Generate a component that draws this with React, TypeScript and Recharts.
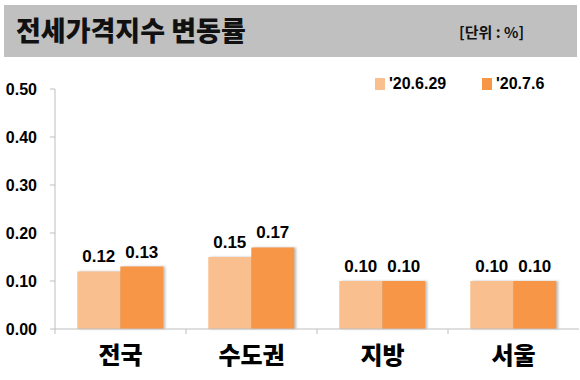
import React from "react";
import { BarChart, Bar, XAxis, YAxis, LabelList } from "recharts";

const regions = ["전국", "수도권", "지방", "서울"];
const prevWeek = [0.12, 0.15, 0.1, 0.1];
const thisWeek = [0.13, 0.17, 0.1, 0.1];
const yTicks = [0, 0.1, 0.2, 0.3, 0.4, 0.5];
const seriesNames = ["'20.6.29", "'20.7.6"];

const data = regions.map((name, i) => ({ name, prev: prevWeek[i], cur: thisWeek[i] }));

const KR = "'Noto Sans CJK KR', 'Noto Sans', sans-serif";
const NUM = "'Liberation Sans', Arial, sans-serif";
const LIGHT = "#fabf8f";
const DARK = "#f79646";

function CategoryTick(props: any) {
  const { x, y, payload } = props;
  const half = payload.offset || 0;
  return (
    <g>
      <line x1={x - half} y1={y - 8} x2={x - half} y2={y - 3} stroke="#bfbfbf" />
      <text
        x={x}
        y={y + 27}
        textAnchor="middle"
        fontFamily={KR}
        fontWeight={900}
        fontSize={24}
        fill="#000"
      >
        {payload.value}
      </text>
    </g>
  );
}

const fmt = (v: any) => Number(v).toFixed(2);
const shadow = { filter: "drop-shadow(2px 0px 1px rgba(0,0,0,0.25))" };
const labelStyle = { fontFamily: NUM, fontWeight: 700, fontSize: 17, fill: "#000" };

export default function App() {
  const legendItem = (color: string, label: string, left: number) => (
    <div style={{ position: "absolute", left, top: 75, display: "flex", alignItems: "center" }}>
      <span style={{ width: 10, height: 12, background: color, marginRight: 4, display: "inline-block" }} />
      <span style={{ fontFamily: NUM, fontWeight: 700, fontSize: 16, lineHeight: "18px", color: "#000" }}>{label}</span>
    </div>
  );
  return (
    <div style={{ position: "absolute", left: 0, top: 0, width: 580, height: 380, background: "#fff" }}>
      <div
        style={{
          position: "absolute",
          left: 4,
          top: 5,
          width: 573,
          height: 52,
          background: "#c0c0c0",
        }}
      >
        <span
          style={{
            position: "absolute",
            left: 12,
            top: 7,
            fontFamily: KR,
            fontWeight: 900,
            fontSize: 27,
            lineHeight: "36px",
            color: "#111",
          }}
        >
          전세가격지수 변동률
        </span>
        <span
          style={{
            position: "absolute",
            left: 455,
            top: 17,
            fontFamily: KR,
            fontWeight: 700,
            fontSize: 15,
            lineHeight: "20px",
            color: "#111",
          }}
        >
          [단위 : %]
        </span>
      </div>
      {legendItem(LIGHT, seriesNames[0], 375)}
      {legendItem(DARK, seriesNames[1], 482)}
      <BarChart
        width={580}
        height={380}
        data={data}
        margin={{ top: 89, right: 1, bottom: 0, left: 0 }}
        barCategoryGap="17%"
        barGap={0}
      >
        <XAxis
          dataKey="name"
          height={51}
          axisLine={{ stroke: "#bfbfbf" }}
          tickLine={false}
          tick={<CategoryTick />}
          interval={0}
        />
        <YAxis
          width={55}
          domain={[0, 0.5]}
          ticks={yTicks}
          tickFormatter={fmt}
          axisLine={{ stroke: "#bfbfbf" }}
          tickLine={{ stroke: "#bfbfbf" }}
          tickSize={5}
          tickMargin={13}
          tick={{ fontFamily: NUM, fontWeight: 700, fontSize: 16, fill: "#000" }}
        />
        <Bar dataKey="prev" name={seriesNames[0]} fill={LIGHT} isAnimationActive={false} style={shadow}>
          <LabelList dataKey="prev" position="top" offset={9} formatter={fmt} style={labelStyle} />
        </Bar>
        <Bar dataKey="cur" name={seriesNames[1]} fill={DARK} isAnimationActive={false} style={shadow}>
          <LabelList dataKey="cur" position="top" offset={9} formatter={fmt} style={labelStyle} />
        </Bar>
      </BarChart>
    </div>
  );
}
